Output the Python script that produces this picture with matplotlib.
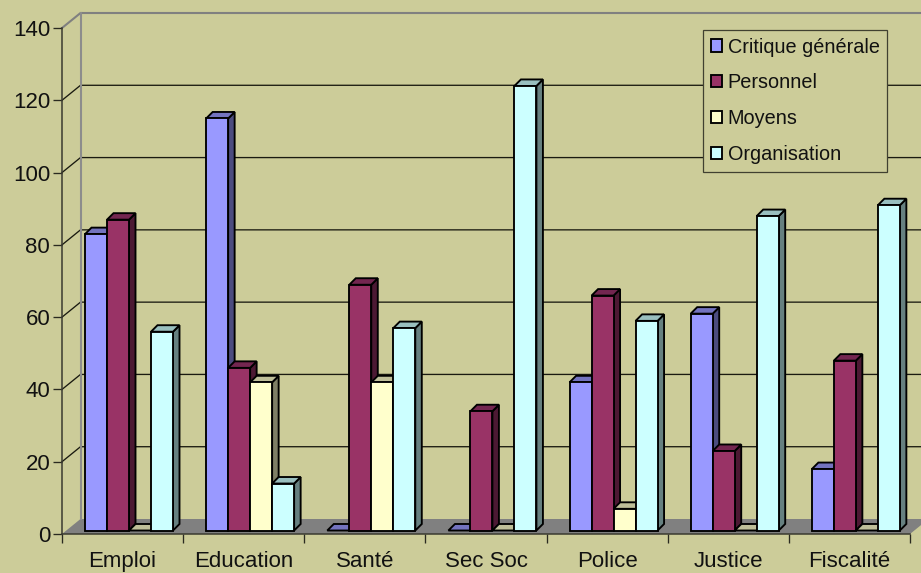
import matplotlib
matplotlib.use("Agg")
import matplotlib.pyplot as plt
from matplotlib.patches import Patch, Polygon

categories = ["Emploi", "Education", "Santé", "Sec Soc", "Police", "Justice", "Fiscalité"]
critique = [82, 114, 0, 0, 41, 60, 17]
personnel = [86, 45, 68, 33, 65, 22, 47]
moyens = [0, 41, 41, 0, 6, 0, 0]
organisation = [55, 13, 56, 123, 58, 87, 90]
series_names = ["Critique générale", "Personnel", "Moyens", "Organisation"]
series_values = [critique, personnel, moyens, organisation]
y_ticks = [0, 20, 40, 60, 80, 100, 120, 140]

front_colors = ["#9999FF", "#993366", "#FFFFCC", "#CCFFFF"]
side_colors = ["#4C4C7F", "#4C1933", "#7F7F66", "#668080"]
top_colors = ["#7373BF", "#732650", "#BFBF99", "#99BFBF"]
BG = "#CCCC99"

W, H = 921, 573
plt.rcParams["font.family"] = ["Liberation Sans", "DejaVu Sans"]
plt.rcParams["font.size"] = 16
plt.rcParams["text.color"] = "#111111"

fig = plt.figure(figsize=(W / 100, H / 100), dpi=100, facecolor=BG)
# front plane of the 3d box, in pixels: x 62..910, y 534..28
ax = fig.add_axes([62 / W, 1 - 534 / H, (910 - 62) / W, (534 - 28) / H], facecolor="none")
ax.set_xlim(0, 7)
ax.set_ylim(0, 140)

px = 7 / (910 - 62)  # one pixel in x data units
py = 140 / (534 - 28)  # one pixel in y data units
wall_dx, wall_dy = 18.5 * px, 15 * py
bar_w = 22 * px
bar_start = 23 * px
bar_base = 3.5 * py
bar_dx, bar_dy = 6.5 * px, 6.5 * py

# floor and walls
ax.add_patch(Polygon([(0, 0), (7, 0), (7 + wall_dx, wall_dy), (wall_dx, wall_dy)],
                     facecolor="#808080", edgecolor="none", clip_on=False, zorder=1))
for v in y_ticks[1:-1]:
    ax.plot([0, wall_dx, 7 + wall_dx], [v, v + wall_dy, v + wall_dy], color="#1A1A10", lw=0.95,
            clip_on=False, zorder=1.2)
ax.plot([0, wall_dx, 7 + wall_dx], [140, 140 + wall_dy, 140 + wall_dy], color="#808080", lw=1.5,
        clip_on=False, zorder=1.3)
ax.plot([wall_dx, wall_dx], [wall_dy, 140 + wall_dy], color="#8C8C8C", lw=1.5, clip_on=False, zorder=1.3)

# bars, left to right so each one covers the side of the previous one
edge = dict(edgecolor="black", linewidth=1.35, joinstyle="miter", clip_on=False, zorder=3)
for i in range(len(categories)):
    for s, values in enumerate(series_values):
        x0 = i + bar_start + s * bar_w
        x1 = x0 + bar_w
        top = bar_base + values[i]
        ax.add_patch(Polygon([(x1, bar_base), (x1 + bar_dx, bar_base + bar_dy), (x1 + bar_dx, top + bar_dy), (x1, top)],
                             facecolor=side_colors[s], **edge))
        ax.add_patch(Polygon([(x0, top), (x0 + bar_dx, top + bar_dy), (x1 + bar_dx, top + bar_dy), (x1, top)],
                             facecolor=top_colors[s], **edge))
        if values[i] > 0:
            ax.bar(x0, values[i], width=bar_w, bottom=bar_base, align="edge", facecolor=front_colors[s], **edge)
ax.set_xlim(0, 7)
ax.set_ylim(0, 140)

# axes
for name in ["top", "right"]:
    ax.spines[name].set_visible(False)
for name in ["left", "bottom"]:
    ax.spines[name].set_color("#3A3A30")
    ax.spines[name].set_linewidth(1.1)
    ax.spines[name].set_zorder(4)
ax.set_yticks(y_ticks)
ax.tick_params(axis="y", length=6.5, width=0.95, color="#2A2A20", pad=2, labelcolor="#111111")
ax.set_xticks(range(8))
ax.set_xticklabels([])
ax.set_xticks([i + 0.5 for i in range(7)], labels=categories, minor=True)
ax.tick_params(axis="x", which="major", length=6.5, width=0.95, color="#2A2A20")
ax.tick_params(axis="x", which="minor", length=0, pad=12.5, labelcolor="#111111")

handles = [Patch(facecolor=c, edgecolor="black", linewidth=1.35) for c in front_colors]
leg = fig.legend(handles, series_names, loc="upper left", bbox_to_anchor=(703 / W, 1 - 30 / H),
                 bbox_transform=fig.transFigure, borderaxespad=0, borderpad=0.38, labelspacing=0.85,
                 handlelength=0.56, handleheight=0.56, handletextpad=0.3, fancybox=False,
                 facecolor=BG, framealpha=1, edgecolor="#404030", fontsize=14.3)
leg.get_frame().set_linewidth(0.9)

fig.savefig("out.png", dpi=100, facecolor=BG)
